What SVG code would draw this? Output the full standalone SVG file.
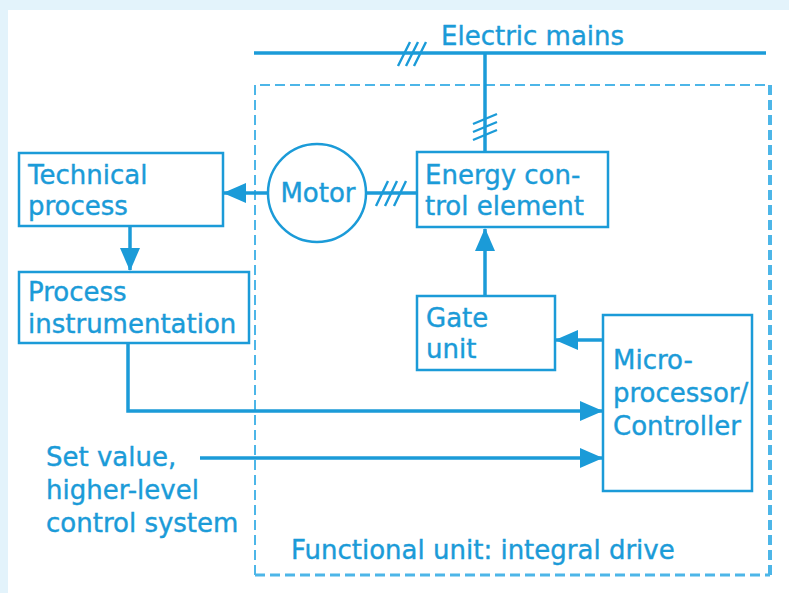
<svg xmlns="http://www.w3.org/2000/svg" width="789" height="593" viewBox="0 0 789 593">
  <style>
    .t { font-family: "DejaVu Sans", "Noto Sans", sans-serif; font-size: 26px; fill: #1B9BD8; stroke: #1B9BD8; stroke-width: 0.4; }
    .box { fill: none; stroke: #1B9BD8; stroke-width: 2.5; }
    .ln { fill: none; stroke: #1B9BD8; stroke-width: 3.5; }
    .tick { fill: none; stroke: #1B9BD8; stroke-width: 2.4; }
    .arr { marker-end: url(#ah); }
  </style>
  <defs>
    <marker id="ah" markerUnits="userSpaceOnUse" markerWidth="23" markerHeight="20" refX="22" refY="10" orient="auto">
      <path d="M0,0 L23,10 L0,20 Z" fill="#1B9BD8"/>
    </marker>
  </defs>
  <rect x="0" y="0" width="789" height="593" fill="#E3F3FB"/>
  <rect x="8" y="10" width="781" height="583" fill="#FFFFFF"/>

  <g id="integral-drive">
    <path d="M255,575 L255,85 L770,85" fill="none" stroke="#4DB6E8" stroke-width="2" stroke-dasharray="10 5"/>
    <path d="M770,85 L770,575" fill="none" stroke="#4DB6E8" stroke-width="4" stroke-dasharray="10 5"/>
    <path d="M255,575 L770,575" fill="none" stroke="#4DB6E8" stroke-width="3" stroke-dasharray="10 5"/>
    <text class="t" x="291" y="559">Functional unit: integral drive</text>
  </g>

  <g id="mains">
    <line class="ln" x1="254" y1="53" x2="766" y2="53"/>
    <text class="t" x="441" y="45">Electric mains</text>
  </g>

  <g id="technical-process">
    <rect class="box" x="19" y="153" width="204" height="73"/>
    <text class="t" x="28" y="184">Technical</text>
    <text class="t" x="28" y="215">process</text>
  </g>

  <g id="process-instrumentation">
    <rect class="box" x="19" y="272" width="230" height="71"/>
    <text class="t" x="28" y="301">Process</text>
    <text class="t" x="28" y="333">instrumentation</text>
  </g>

  <g id="motor">
    <circle class="box" cx="317" cy="193" r="49"/>
    <text class="t" x="318" y="202" text-anchor="middle">Motor</text>
  </g>

  <g id="energy-control">
    <rect class="box" x="417" y="152" width="191" height="75"/>
    <text class="t" x="425" y="184">Energy con-</text>
    <text class="t" x="425" y="215">trol element</text>
  </g>

  <g id="gate-unit">
    <rect class="box" x="417" y="296" width="138" height="74"/>
    <text class="t" x="426" y="327">Gate</text>
    <text class="t" x="426" y="358">unit</text>
  </g>

  <g id="controller">
    <rect class="box" x="603" y="315" width="149" height="176"/>
    <text class="t" x="613" y="369">Micro-</text>
    <text class="t" x="613" y="402">processor/</text>
    <text class="t" x="613" y="435">Controller</text>
  </g>

  <g id="set-value">
    <text class="t" x="46" y="466">Set value,</text>
    <text class="t" x="46" y="499">higher-level</text>
    <text class="t" x="46" y="532">control system</text>
  </g>

  <g id="connectors">
    <line class="ln" x1="485" y1="53" x2="485" y2="152"/>
    <line class="ln" x1="366" y1="193" x2="417" y2="193"/>
    <line class="ln arr" x1="268" y1="193" x2="224" y2="193"/>
    <line class="ln arr" x1="130" y1="226" x2="130" y2="270"/>
    <line class="ln arr" x1="485" y1="296" x2="485" y2="229"/>
    <line class="ln arr" x1="603" y1="340" x2="556" y2="340"/>
    <path class="ln arr" d="M128,343 L128,411 L602,411"/>
    <line class="ln arr" x1="200" y1="458" x2="602" y2="458"/>
    <path class="tick" d="M398,66 L410,42 M406,66 L418,42 M414,66 L426,42"/>
    <path class="tick" d="M473,124 L497,114 M473,132 L497,122 M473,140 L497,130"/>
    <path class="tick" d="M376,206 L388,181 M385,206 L397,181 M394,206 L406,181"/>
  </g>
</svg>
